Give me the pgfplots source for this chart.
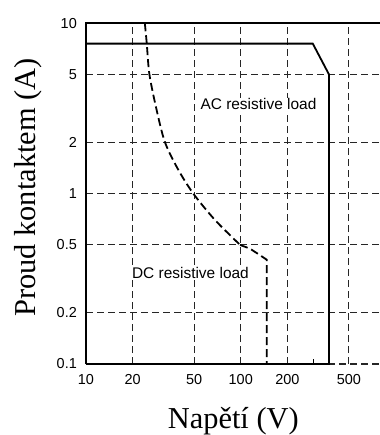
\documentclass[border=0pt]{standalone}
\usepackage{fontspec}
\setmainfont{Liberation Serif}
\newfontfamily\arial{Liberation Sans}
\usepackage{pgfplots}
\pgfplotsset{compat=1.18}
\begin{document}
\begin{tikzpicture}
\useasboundingbox (-86bp,-71bp) rectangle (294bp,364bp);
\begin{axis}[
 xmode=log, ymode=log,
 scale only axis, width=294bp, height=340.7bp,
 xmin=10, xmax=794, ymin=0.1, ymax=10,
 xtick={10,20,50,100,200,500}, xticklabels={10,20,50,100,200,500},
 ytick={0.1,0.2,0.5,1,2,5,10}, yticklabels={0.1,0.2,0.5,1,2,5,10},
 major tick length=0pt,
 /pgf/number format/assume math mode=true,
 tick label style={font=\arial\fontsize{14.5}{14.5}\selectfont, inner sep=0pt},
 xticklabel style={anchor=north, yshift=-10bp},
 yticklabel style={anchor=east, xshift=-9bp},
 grid=major,
 major grid style={black!85, line width=1.1bp, dash pattern=on 7bp off 4bp},
 axis line style={draw=none},
 clip=false,
 xlabel={Napětí (V)}, ylabel={Proud kontaktem (A)},
 label style={font=\fontsize{30.5}{30.5}\selectfont},
 xlabel style={at={(axis description cs:0.501,-0.1905)}, anchor=base},
 ylabel style={at={(axis description cs:-0.1718,0.518)}, anchor=base},
]
% frame: left and top
\addplot[black, line width=1.6bp] coordinates {(10,0.1) (10,10) (794,10)};
% AC resistive load limit
\addplot[black, line width=1.8bp] coordinates {(10,7.6) (292,7.6) (372,5) (372,0.1) (10,0.1)};
% small tick
\addplot[black, line width=1.2bp] coordinates {(294,0.1) (294,0.107)};
% DC resistive load limit
\addplot[black, line width=1.8bp, dash pattern=on 8bp off 4bp, smooth] coordinates {
 (24.0,10) (24.7,7.6) (25.7,5) (28.6,3.1) (32.4,2) (39.5,1.38) (49.4,1) (68.2,0.70) (99,0.5)};
\addplot[black, line width=1.8bp, dash pattern=on 8bp off 4bp] coordinates {
 (99,0.5) (115,0.475) (147,0.41) (147,0.1)};
\node[font=\arial\fontsize{15.5}{15.5}\selectfont, anchor=base west, fill=white, inner sep=1bp] at (axis cs:54,3.10) {AC resistive load};
\node[font=\arial\fontsize{15.5}{15.5}\selectfont, anchor=base west, fill=white, inner sep=1bp] at (axis cs:19.5,0.317) {DC resistive load};
\end{axis}
\end{tikzpicture}
\end{document}
